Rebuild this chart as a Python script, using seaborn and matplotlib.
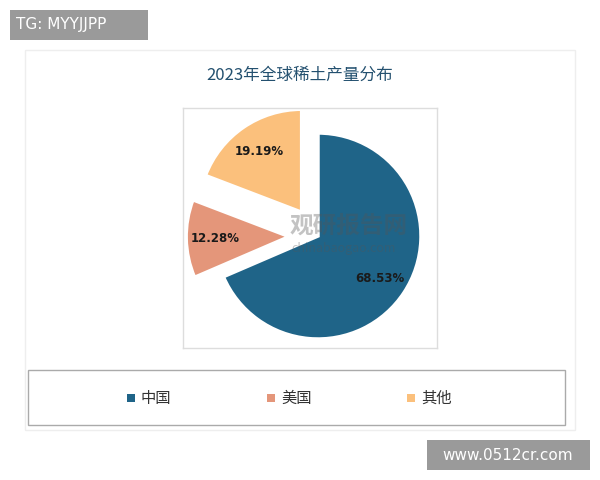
import matplotlib
matplotlib.use("Agg")
import matplotlib.pyplot as plt
import seaborn as sns
import numpy as np
from matplotlib.patches import Rectangle

sns.set_theme(style="white")
plt.rcParams['font.family'] = ['Noto Sans CJK SC', 'DejaVu Sans']

categories = ["中国", "美国", "其他"]
values = [68.53, 12.28, 19.19]
colors = ["#1f6488", "#e4967a", "#fbc07c"]
title = "2023年全球稀土产量分布"

W, H = 600, 480
fig = plt.figure(figsize=(6, 4.8), dpi=100)
fig.patch.set_facecolor("white")

def box(x0, y0, x1, y1):
    return [x0 / W, 1 - y1 / H, (x1 - x0) / W, (y1 - y0) / H]

fig.patches.append(Rectangle((25 / W, 1 - 430 / H), 550 / W, 380 / H, transform=fig.transFigure,
                             fill=False, edgecolor="#eeeeee", lw=1))

ax = fig.add_axes(box(183, 108, 437, 348))
cx, cy, r = 135, 128, 103

wedges, _ = ax.pie(values, colors=colors, startangle=90, counterclock=False,
                   explode=[0, 0.28, 0.28], wedgeprops=dict(edgecolor="white", linewidth=2.5))
ax.set_aspect("auto")
ax.set_xlim(-cx / r, (254 - cx) / r)
ax.set_ylim(-(240 - cy) / r, cy / r)
ax.set_frame_on(True)
for s in ax.spines.values():
    s.set_visible(True); s.set_color("#dddddd"); s.set_linewidth(1)
ax.set_xticks([]); ax.set_yticks([])

ang = 90.0
for i, v in enumerate(values):
    mid = ang - v * 3.6 / 2
    ang -= v * 3.6
    if i == 0:
        x, y = 0.6, -0.41
    else:
        d = 0.28 + 0.72
        x, y = d * np.cos(np.radians(mid)), d * np.sin(np.radians(mid))
    ax.text(x, y, f"{v:.2f}%", ha="center", va="center", fontsize=8.5, fontweight="bold",
            color="#1a1a1a", family="DejaVu Sans")

ax.text(0.3, 0.1, "观研报告网", ha="center", va="center", fontsize=17, fontweight="bold",
        color="#555555", alpha=0.35)
ax.text(0.25, -0.12, "chinabaogao.com", ha="center", va="center", fontsize=9,
        color="#555555", alpha=0.35)

fig.text(300 / W, 1 - 75 / H, title, ha="center", va="center", fontsize=12, color="#23506f")

fig.patches.append(Rectangle((28 / W, 1 - 425 / H), 537 / W, 55 / H, transform=fig.transFigure,
                             fill=False, edgecolor="#aaaaaa", lw=1))
for i, (c, col) in enumerate(zip(categories, colors)):
    x = (131 + 140 * i) / W
    y = 1 - 398 / H
    fig.patches.append(Rectangle((x - 4 / W, y - 4 / H), 8 / W, 8 / H, transform=fig.transFigure,
                                 facecolor=col, edgecolor="none"))
    fig.text(x + 10 / W, y, c, ha="left", va="center", fontsize=11, color="#333333")

fig.patches.append(Rectangle((10 / W, 1 - 40 / H), 138 / W, 30 / H, transform=fig.transFigure,
                             facecolor="#9a9a9a", edgecolor="none"))
fig.text(16 / W, 1 - 25 / H, "TG: MYYJJPP", ha="left", va="center", fontsize=11, color="white",
         family="DejaVu Sans")
fig.patches.append(Rectangle((427 / W, 1 - 470 / H), 163 / W, 30 / H, transform=fig.transFigure,
                             facecolor="#9a9a9a", edgecolor="none"))
fig.text(508 / W, 1 - 455 / H, "www.0512cr.com", ha="center", va="center", fontsize=11,
         color="white", family="DejaVu Sans")

fig.savefig("out.png", dpi=100, facecolor="white")
